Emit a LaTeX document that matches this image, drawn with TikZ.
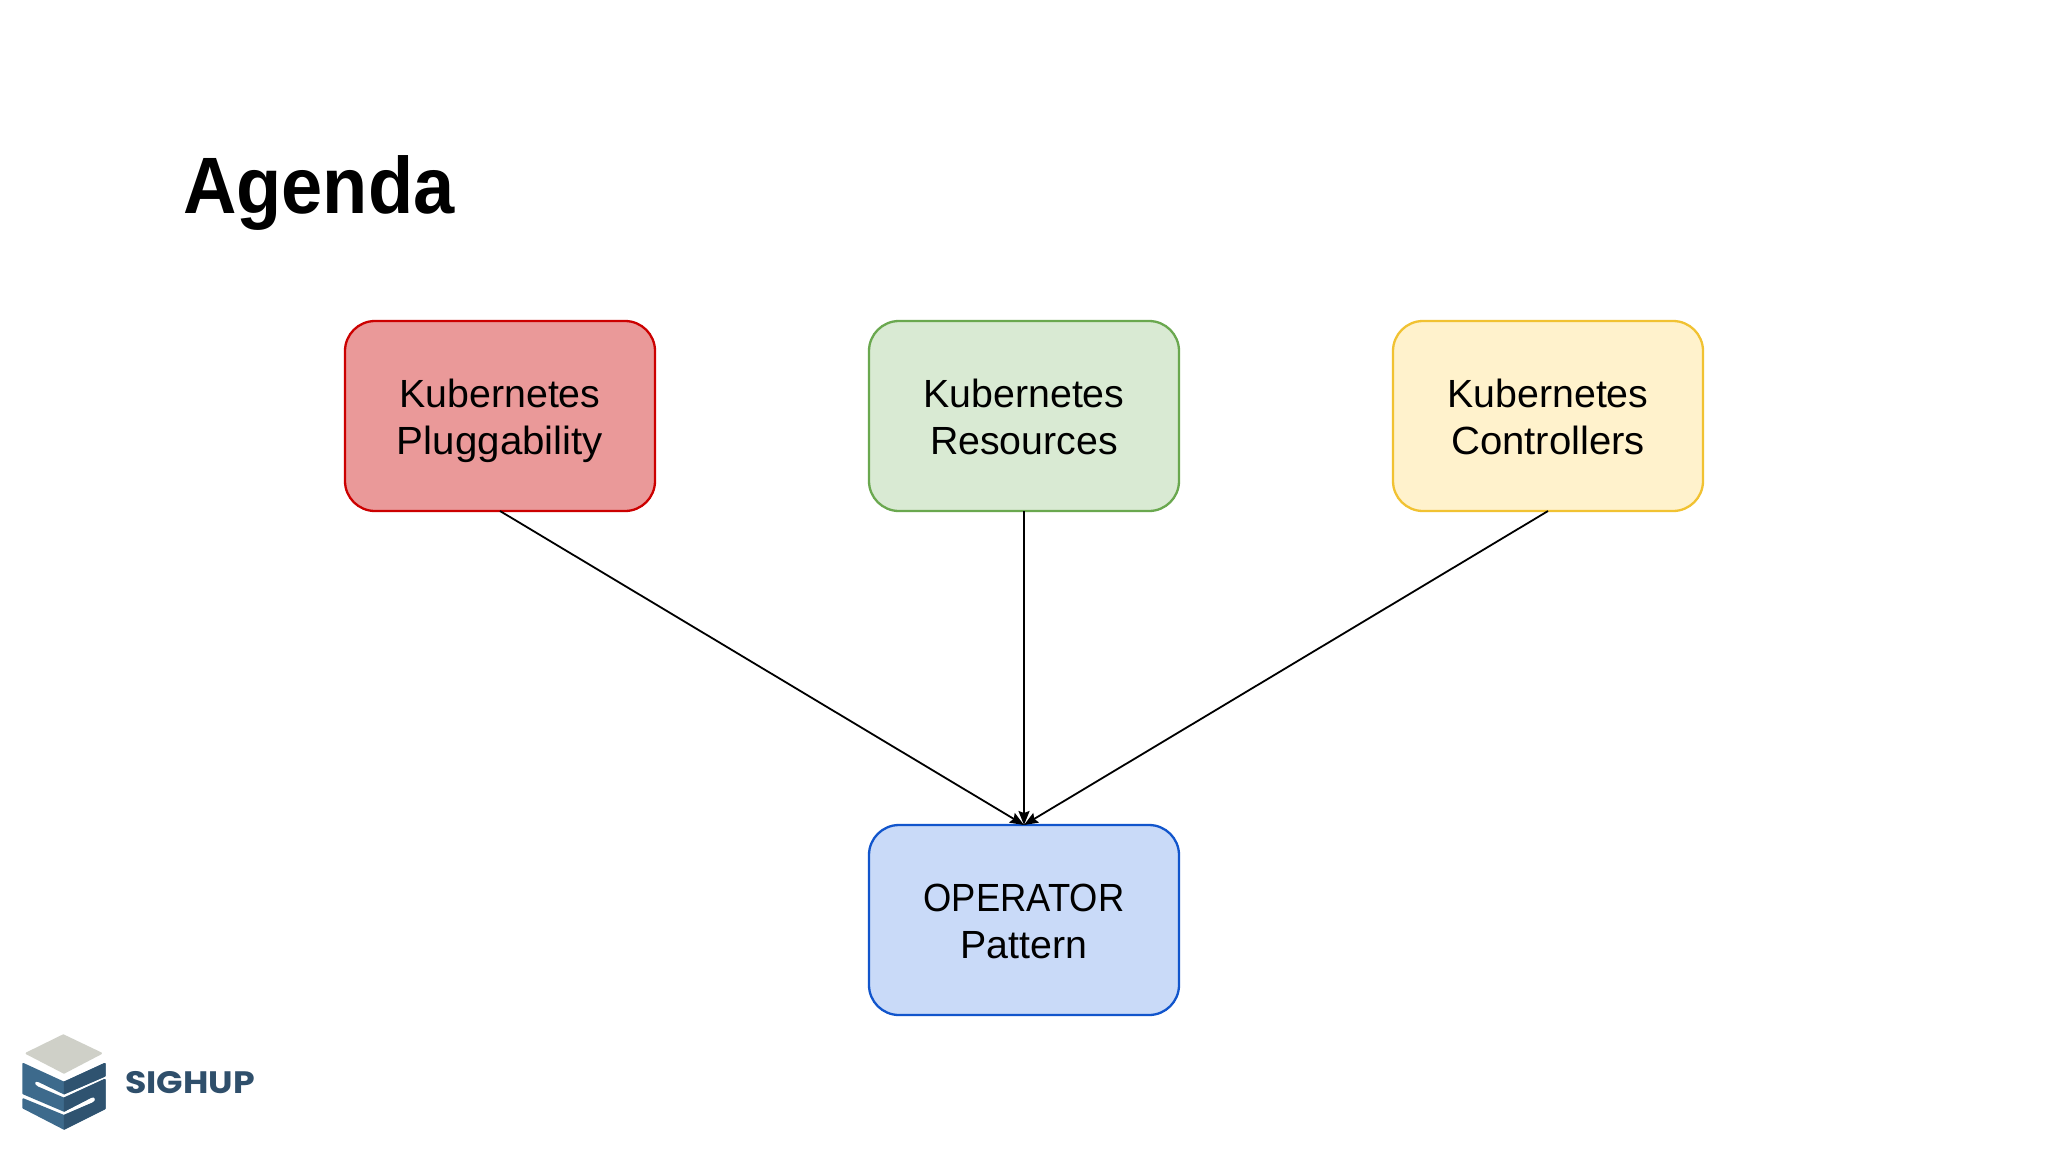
\documentclass[tikz,border=0pt]{standalone}
\usepackage{fontspec}
\usepackage{graphicx}
\setmainfont{Liberation Sans}
\newfontfamily\titlefont{Liberation Sans}[FakeStretch=0.925]
\newfontfamily\logofont{Poppins}[FakeStretch=1.12]
\usetikzlibrary{arrows.meta}
\definecolor{redfill}{HTML}{EA9999}\definecolor{redline}{HTML}{CC0000}
\definecolor{greenfill}{HTML}{D9EAD3}\definecolor{greenline}{HTML}{6AA84F}
\definecolor{yellowfill}{HTML}{FFF2CC}\definecolor{yellowline}{HTML}{F1C232}
\definecolor{bluefill}{HTML}{C9DAF8}\definecolor{blueline}{HTML}{1155CC}
\definecolor{logoleft}{HTML}{3D6A8C}\definecolor{logoright}{HTML}{2F5370}\definecolor{logotext}{HTML}{2F4F6B}
\definecolor{logotop}{HTML}{CFD0C8}
\newcommand\boxstrut{\rule[-9pt]{0pt}{47pt}}
\newcommand\fitword[2]{\scalebox{#1}[1]{#2}\boxstrut}
\newcommand\logoS{(70,162) -- (192,218) -- (314,162) -- (314,197) -- (192,250) -- (118,214)
    .. controls (100,206) and (96,224) .. (112,232)
    -- (192,266) -- (314,210) -- (314,295) -- (192,356) -- (70,293) -- (70,268)
    -- (192,318) -- (280,280)
    .. controls (295,273) and (288,252) .. (273,260)
    -- (192,302) -- (70,250) -- cycle}
\tikzset{
  agendabox/.style={draw, line width=2.3pt, rounded corners=30pt, minimum width=310pt, minimum height=190pt,
    outer sep=0pt, inner sep=0pt, align=center, text=black,
    font=\fontsize{39.3}{47}\selectfont},
  link/.style={draw=black, line width=1.8pt, -{Stealth[length=14pt,width=11pt,inset=2pt]}},
  logoshape/.style={line join=round, line width=2pt}
}
\begin{document}
\begin{tikzpicture}[x=1pt,y=-1pt]
\useasboundingbox (0,0) rectangle (2048,1152);
\fill[white] (0,0) rectangle (2048,1152);
\node[anchor=base west, inner sep=0pt, font=\titlefont\bfseries\fontsize{80}{90}\selectfont] (title) at (183,213) {Agenda};
\node[agendabox, fill=redfill, draw=redline] (plug) at (500,416) {\boxstrut Kubernetes\\\fitword{1.025}{Pluggability}};
\node[agendabox, fill=greenfill, draw=greenline] (res) at (1024,416) {\boxstrut Kubernetes\\\boxstrut Resources};
\node[agendabox, fill=yellowfill, draw=yellowline] (ctrl) at (1548,416) {\boxstrut Kubernetes\\\fitword{1.02}{Controllers}};
\node[agendabox, fill=bluefill, draw=blueline] (op) at (1024,920) {\fitword{0.925}{OPERATOR}\\\boxstrut Pattern};
\draw[link] (plug.south) -- (op.north);
\draw[link] (res.south) -- (op.north);
\draw[link] (ctrl.south) -- (op.north);
\begin{scope}[shift={(0,1010)}, x=0.3333pt, y=-0.3333pt]
  \fill[logotop, logoshape, draw=logotop] (190,76) -- (303,130) -- (192,188) -- (80,130) -- cycle;
  \fill[logoleft, logoshape, draw=logoleft] \logoS;
  \begin{scope}
    \clip (192,100) rectangle (330,380);
    \fill[logoright, logoshape, draw=logoright] \logoS;
  \end{scope}
\end{scope}
\node[anchor=base west, inner sep=0pt, text=logotext, font=\logofont\bfseries\fontsize{31}{34}\selectfont] (logo) at (125,1093) {SIGHUP};
\end{tikzpicture}
\end{document}
